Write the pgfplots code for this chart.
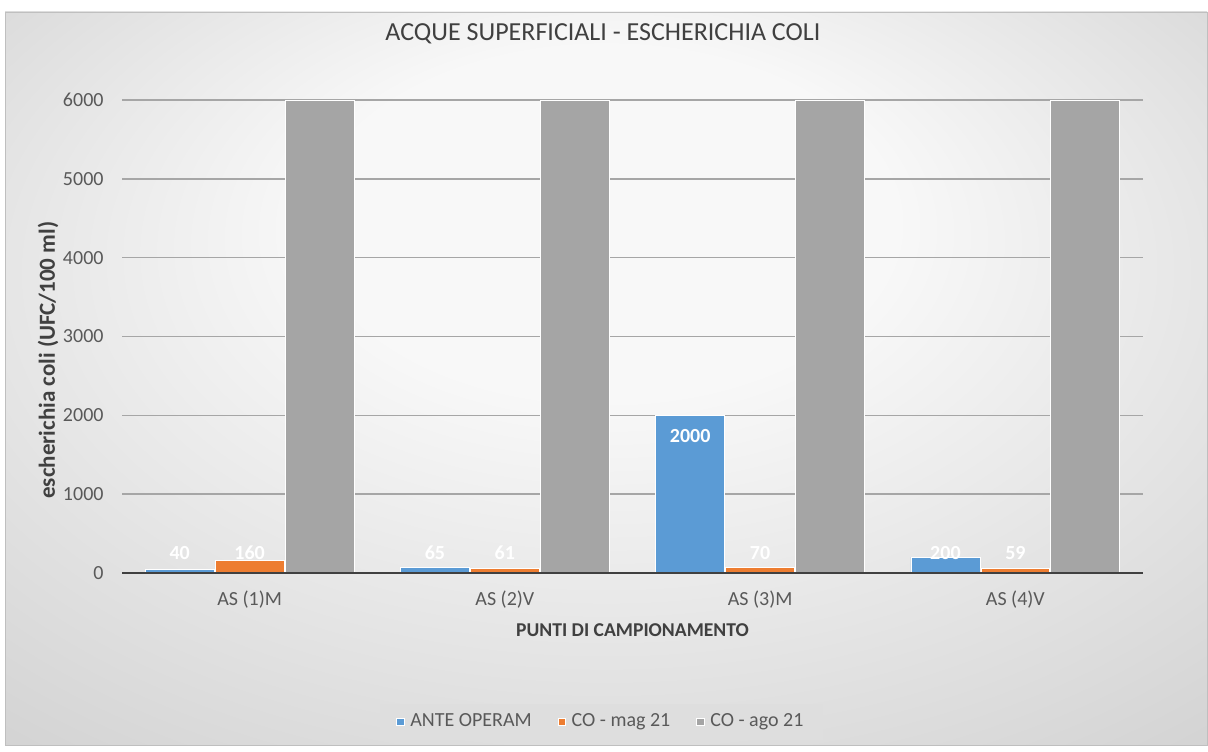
\documentclass[border=0pt]{standalone}
\usepackage{fontspec}
\setmainfont{Carlito}
\usepackage{pgfplots}
\pgfplotsset{compat=1.18}
\definecolor{blu}{HTML}{5B9BD5}
\definecolor{ora}{HTML}{ED7D31}
\definecolor{gri}{HTML}{A5A5A5}
\definecolor{txt}{HTML}{595959}
\definecolor{dark}{HTML}{404040}
\definecolor{bgc}{HTML}{F8F8F8}
\definecolor{bge}{HTML}{C2C2C2}
\definecolor{legbg}{HTML}{DEDEDE}
\pgfdeclareradialshading{chartbg}{\pgfpoint{0bp}{14bp}}{color(0bp)=(bgc); color(12bp)=(bgc); color(50bp)=(bge)}

\begin{document}
\begin{tikzpicture}
\useasboundingbox (0,0) rectangle (604pt,375.5pt);
\shade[shading=chartbg, draw=black!25] (2.5pt,3pt) rectangle (603.5pt,369.5pt);
\begin{axis}[
  at={(61pt,89pt)}, anchor=south west,
  scale only axis, width=510.5pt, height=236.5pt,
  ymin=0, ymax=6000, ytick={0,1000,...,6000},
  xmin=-0.5, xmax=3.5, xtick={0,1,2,3},
  xticklabels={AS (1)M, AS (2)V, AS (3)M, AS (4)V},
  major tick length=0,
  axis x line*=bottom, axis y line*=left,
  y axis line style={draw=none},
  x axis line style={draw=dark, line width=1.3pt},
  ymajorgrids, major grid style={black!35, line width=0.7pt},
  /pgf/number format/assume math mode=true,
  /pgf/number format/1000 sep={},
  tick label style={font=\fontsize{10}{12}\selectfont, text=txt},
  yticklabel style={xshift=-5.7pt},
  xticklabel style={yshift=-5.4pt},
  title={ACQUE SUPERFICIALI - ESCHERICHIA COLI},
  title style={at={(axis description cs:0.471,1)}, anchor=center, yshift=27pt,
    font=\fontsize{13}{15}\selectfont, text=dark},
  xlabel={PUNTI DI CAMPIONAMENTO},
  ylabel={escherichia coli (UFC/100 ml)},
  every axis x label/.style={at={(axis description cs:0.5,0)}, anchor=center, yshift=-28.5pt,
    font=\fontsize{9.8}{12}\selectfont\bfseries, text=dark},
  every axis y label/.style={at={(axis description cs:-0.0725,0.45)}, rotate=90, anchor=center,
    font=\fontsize{11.5}{13}\selectfont\bfseries, text=dark},
  ybar, bar width=0.27,
  visualization depends on={rawy \as \ry},
  legend columns=3,
  legend style={at={(axis description cs:0.470,-0.315)}, anchor=center,
    draw=none, fill=legbg,
    font=\fontsize{10}{12}\selectfont, text=txt,
    inner xsep=8pt, inner ysep=3pt,
    /tikz/every odd column/.append style={column sep=1pt},
    /tikz/every even column/.append style={column sep=11pt}},
  legend image code/.code={\fill[#1] (0pt,-1.8pt) rectangle (3.6pt,1.8pt);},
]
\addplot[fill=blu, draw=white, line width=0.4pt, bar shift=-0.274,
  nodes near coords,
  nodes near coords style={font=\fontsize{10}{12}\selectfont\bfseries, text=white, anchor=center,
    yshift={\ry>1000 ? -10.5 : (254-\ry)*0.03942}}]
  coordinates {(0,40) (1,65) (2,2000) (3,200)};
\addplot[fill=ora, draw=white, line width=0.4pt, bar shift=0,
  nodes near coords,
  nodes near coords style={font=\fontsize{10}{12}\selectfont\bfseries, text=white, anchor=center,
    yshift={(254-\ry)*0.03942}}]
  coordinates {(0,160) (1,61) (2,70) (3,59)};
\addplot[fill=gri, draw=white, line width=0.4pt, bar shift=0.274]
  coordinates {(0,6000) (1,6000) (2,6000) (3,6000)};
\legend{ANTE OPERAM, CO - mag 21, CO - ago 21}
\draw[dark, line width=1.3pt] (rel axis cs:0,0) -- (rel axis cs:1,0);
\end{axis}
\end{tikzpicture}
\end{document}
